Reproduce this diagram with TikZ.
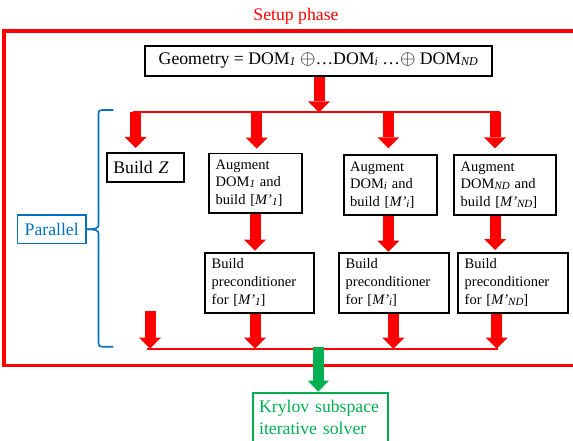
\documentclass[tikz,border=0pt]{standalone}
\usepackage{fontspec}
\setmainfont{Liberation Serif}
\usetikzlibrary{arrows.meta}
\definecolor{sred}{RGB}{255,0,0}
\definecolor{sblue}{RGB}{0,112,192}
\definecolor{sgreen}{RGB}{0,176,80}
\newcommand\subx[1]{\raisebox{-0.8pt}{\fontsize{11}{10}\selectfont\itshape #1}}
\newcommand\subg[1]{\raisebox{-0.8pt}{\fontsize{12}{10}\selectfont\itshape #1}}
\newcommand\opl{\scalebox{1.15}{$\oplus$}}
\begin{document}
\begin{tikzpicture}[x=1pt,y=-1pt,
  bigarrow/.style={color=sred, line width=11pt, -{Triangle[width=22pt,length=11pt,line width=0pt]}},
  greenarrow/.style={color=sgreen, line width=10.5pt, -{Triangle[width=21pt,length=11pt,line width=0pt]}},
  thinred/.style={draw=sred, line width=1.7pt},
  sbox/.style={draw, line width=1.8pt, anchor=north west, align=left, inner xsep=6.5pt, inner ysep=2pt, font=\fontsize{14.5}{17.7}\selectfont},
  bigfont/.style={font=\fontsize{17.7}{20}\selectfont}]
\useasboundingbox (0,0) rectangle (573,441);
\clip (0,0) rectangle (573,441);
\fill[white] (0,0) rectangle (573,441);
% setup frame
\draw[sred, line width=3.3pt] (4,31) rectangle (650,365.3);
\node[text=sred, bigfont, anchor=base] (setup) at (296,20.5) {Setup phase};
% geometry
\node[draw, line width=1.8pt, minimum width=346.7pt, minimum height=30pt, inner sep=0pt, font=\fontsize{17.7}{20}\selectfont] (geo) at (318.3,61) {Geometry = DOM\subg{1} \opl…DOM\subg{i} …\opl\ DOM\subg{ND}};
% boxes
\node[sbox, bigfont, text width=64pt, minimum height=29pt, inner xsep=6.5pt] (bz) at (106,152) {Build \textit{Z}};
\node[sbox, text width=79.7pt, minimum height=59pt] (a1) at (208.3,152.7) {Augment\\DOM\subx{1} and\\build [\textit{M’}\subx{1}]};
\node[sbox, text width=80.3pt, minimum height=59.7pt] (ai) at (342.7,154.3) {Augment\\DOM\subx{i} and\\build [\textit{M’}\subx{i}]};
\node[sbox, text width=88.7pt, minimum height=59.7pt] (an) at (453.3,154.3) {Augment\\DOM\subx{ND} and\\build [\textit{M’}\subx{ND}]};
\node[sbox, text width=96pt, minimum height=60pt] (p1) at (204.3,251.7) {Build\\preconditioner\\for [\textit{M’}\subx{1}]};
\node[sbox, text width=97pt, minimum height=60pt] (pi) at (338.3,251.7) {Build\\preconditioner\\for [\textit{M’}\subx{i}]};
\node[sbox, text width=96.4pt, minimum height=60pt] (pn) at (457.3,251.7) {Build\\preconditioner\\for [\textit{M’}\subx{ND}]};
\node[draw=sblue, text=sblue, line width=1.5pt, minimum width=68.7pt, minimum height=28.7pt, inner sep=0pt, bigfont] (par) at (51.7,229.3) {Parallel};
\node[draw=sgreen, text=sgreen, line width=1.8pt, anchor=north west, align=left, text width=122pt, inner xsep=6.5pt, inner ysep=8pt, font=\fontsize{17.7}{21.6}\selectfont] (kry) at (251.7,391.7) {Krylov subspace\\iterative solver};
% coordinates
\coordinate (tj) at (319,112.3);
\coordinate (tl) at (133.3,112.3);
\coordinate (tr) at (500,112.3);
\coordinate (t1) at (135.7,112.3);
\coordinate (t2) at (256.7,112.3);
\coordinate (t3) at (388.3,112.3);
\coordinate (t4) at (495,112.3);
\coordinate (bl) at (146.7,348.7);
\coordinate (br) at (498.3,348.7);
\coordinate (s0) at (150,310.7);
\coordinate (b0) at (150,348.7);
\coordinate (b1) at (255,348.7);
\coordinate (b2) at (393.3,348.7);
\coordinate (b3) at (496.7,348.7);
\coordinate (bj) at (318.3,346.7);
% top distribution
\draw[thinred] (tl) -- (tr);
\draw[bigarrow] (geo.south -| tj) -- (tj);
\draw[bigarrow, shorten >=4pt] (t1) -- (t1 |- bz.north);
\draw[bigarrow, shorten >=4pt] (t2) -- (t2 |- a1.north);
\draw[bigarrow, shorten >=6pt] (t3) -- (t3 |- ai.north);
\draw[bigarrow, shorten >=6pt] (t4) -- (t4 |- an.north);
% middle
\draw[bigarrow, shorten >=1pt] (a1.south -| b1) -- (p1.north -| b1);
\draw[bigarrow] (ai.south -| t3) -- (pi.north -| t3);
\draw[bigarrow, shorten >=1.7pt] (an.south -| t4) -- (pn.north -| t4);
% bottom collection
\draw[thinred] (bl) -- (br);
\draw[bigarrow] (s0) -- (b0);
\draw[bigarrow] (p1.south -| b1) -- (b1);
\draw[bigarrow] (pi.south -| b2) -- (b2);
\draw[bigarrow] (pn.south -| b3) -- (b3);
\draw[greenarrow] (bj) -- (kry.north -| bj);
% brace
\draw[sblue, line width=1.6pt] (113.3,110) -- (102,110) .. controls (99.5,110) and (98.5,111) .. (98.5,113.5) -- (98.5,225) .. controls (98.5,228) and (96,229.3) .. (par.east);
\draw[sblue, line width=1.6pt] (par.east) .. controls (96,229.3) and (98.5,230.5) .. (98.5,233.5) -- (98.5,343) .. controls (98.5,346) and (99.5,346.7) .. (102,346.7) -- (113.3,346.7);
\end{tikzpicture}
\end{document}
